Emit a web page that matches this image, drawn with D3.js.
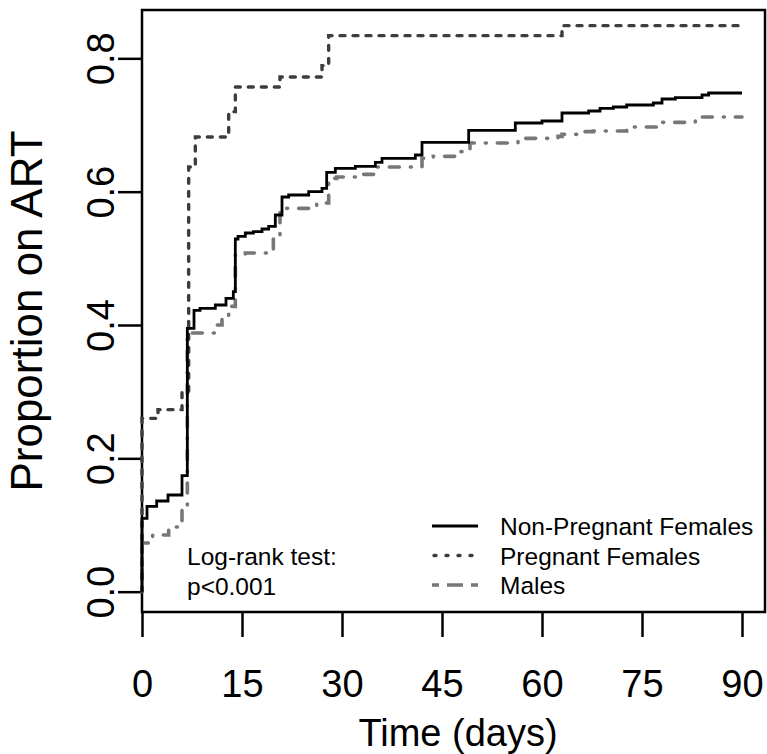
<!DOCTYPE html>
<html>
<head>
<meta charset="utf-8">
<script src="https://cdn.jsdelivr.net/npm/d3@7"></script>
<style>
  body { margin: 0; background: #fff; }
  svg { display: block; font-family: "Liberation Sans", Arial, sans-serif; }
</style>
</head>
<body>
<div id="chart"></div>
<script>
// Kaplan-Meier style cumulative proportions
const nonPregTimes  = [0, 0, 0.75, 2.2, 3.9, 6, 6.8, 7.8, 8.7, 11, 12.6, 13.7, 14, 14.4, 15.5, 16.7, 18, 19, 20, 21, 22, 25, 27, 27.7, 29, 32, 35, 36, 41, 42, 49, 56, 60, 63, 67, 68.7, 70.7, 72.7, 76.7, 78, 80, 84, 85, 90];
const nonPregValues = [0, 0.11, 0.128, 0.136, 0.145, 0.174, 0.395, 0.422, 0.425, 0.43, 0.44, 0.45, 0.529, 0.533, 0.538, 0.54, 0.544, 0.548, 0.565, 0.592, 0.595, 0.6, 0.605, 0.629, 0.635, 0.638, 0.644, 0.65, 0.655, 0.674, 0.692, 0.703, 0.706, 0.718, 0.721, 0.725, 0.727, 0.73, 0.733, 0.739, 0.741, 0.745, 0.748, 0.748];

const pregTimes  = [0, 0, 2.4, 6, 7, 8, 13, 14, 20.7, 27, 28, 63, 90];
const pregValues = [0, 0.26, 0.273, 0.30, 0.637, 0.682, 0.72, 0.757, 0.772, 0.789, 0.834, 0.849, 0.849];

const maleTimes  = [0, 0, 1.6, 4, 5.4, 6, 6.8, 11, 12, 13, 14, 15.5, 19.7, 20.7, 26.2, 28, 29.2, 32.7, 35.2, 42, 43.7, 47, 49.2, 56.4, 62.4, 63, 66, 67.7, 72.7, 77.4, 83, 84, 90];
const maleValues = [0, 0.073, 0.085, 0.097, 0.105, 0.127, 0.388, 0.40, 0.412, 0.428, 0.505, 0.508, 0.532, 0.575, 0.583, 0.62, 0.622, 0.626, 0.637, 0.65, 0.653, 0.66, 0.673, 0.68, 0.683, 0.686, 0.69, 0.691, 0.697, 0.704, 0.709, 0.712, 0.712];

const seriesNames = ["Non-Pregnant Females", "Pregnant Females", "Males"];
const xTicks = [0, 15, 30, 45, 60, 75, 90];
const yTicks = [0, 0.2, 0.4, 0.6, 0.8];

const outerWidth = 767;
const outerHeight = 754;

// plot box in pixels
const box = { left: 142, right: 765, top: 10, bottom: 612 };

const svg = d3.select("#chart")
  .append("svg")
  .attr("width", outerWidth)
  .attr("height", outerHeight);

const x = d3.scaleLinear().domain([0, 93.45]).range([box.left, box.right]);
const y = d3.scaleLinear().domain([-0.0305, 0.8725]).range([box.bottom, box.top]);

// --- axes ---
const xAxisG = svg.append("g")
  .attr("transform", `translate(0,${box.bottom})`)
  .call(d3.axisBottom(x).tickValues(xTicks).tickSize(25).tickFormat(d3.format("d")));

xAxisG.select(".domain").remove();
xAxisG.selectAll(".tick line").attr("stroke", "#000").attr("stroke-width", 2.5);
xAxisG.selectAll(".tick text")
  .attr("y", 85)
  .attr("dy", 0)
  .attr("fill", "#000")
  .attr("font-size", 38)
  .attr("font-family", "Liberation Sans, Arial, sans-serif");

const yAxisG = svg.append("g")
  .attr("transform", `translate(${box.left},0)`)
  .call(d3.axisLeft(y).tickValues(yTicks).tickSize(24).tickFormat(d3.format(".1f")));

yAxisG.select(".domain").remove();
yAxisG.selectAll(".tick line").attr("stroke", "#000").attr("stroke-width", 2.5);
yAxisG.selectAll(".tick text")
  .attr("transform", "rotate(-90)")
  .attr("x", 0)
  .attr("y", -28)
  .attr("dy", 0)
  .attr("text-anchor", "middle")
  .attr("fill", "#000")
  .attr("font-size", 38)
  .attr("font-family", "Liberation Sans, Arial, sans-serif");

// box
svg.append("rect")
  .attr("x", box.left)
  .attr("y", box.top)
  .attr("width", box.right - box.left)
  .attr("height", box.bottom - box.top)
  .attr("fill", "none")
  .attr("stroke", "#000")
  .attr("stroke-width", 2.5);

// axis labels
svg.append("text")
  .attr("x", 458)
  .attr("y", 746)
  .attr("text-anchor", "middle")
  .attr("font-size", 38)
  .text("Time (days)");

svg.append("text")
  .attr("transform", "rotate(-90)")
  .attr("x", -(box.top + box.bottom) / 2)
  .attr("y", 42)
  .attr("text-anchor", "middle")
  .attr("font-size", 44)
  .text("Proportion on ART");

// --- curves ---
const styles = [
  { color: "#000", width: 2.8, dash: null, cap: "butt" },
  { color: "#3d3d3d", width: 3.4, dash: "5,8", cap: "round" },
  { color: "#777", width: 3.6, dash: "1,11,10,11", cap: "round" }
];

const curves = [
  d3.zip(nonPregTimes, nonPregValues),
  d3.zip(pregTimes, pregValues),
  d3.zip(maleTimes, maleValues)
];

const line = d3.line()
  .x(d => x(d[0]))
  .y(d => y(d[1]))
  .curve(d3.curveStepAfter);

// draw males first, then pregnant, then solid on top
[2, 1, 0].forEach(i => {
  svg.append("path")
    .datum(curves[i])
    .attr("d", line)
    .attr("fill", "none")
    .attr("stroke", styles[i].color)
    .attr("stroke-width", styles[i].width)
    .attr("stroke-dasharray", styles[i].dash)
    .attr("stroke-linecap", styles[i].cap)
    .attr("stroke-linejoin", "miter");
});

// --- legend ---
const legend = svg.append("g").attr("transform", "translate(432,526)");

legend.selectAll("line")
  .data(seriesNames)
  .join("line")
  .attr("x1", 0)
  .attr("x2", 46)
  .attr("y1", (d, i) => i * 29.5)
  .attr("y2", (d, i) => i * 29.5)
  .attr("stroke", (d, i) => styles[i].color)
  .attr("stroke-width", (d, i) => styles[i].width)
  .attr("stroke-dasharray", (d, i) => i === 1 ? "2,10" : (i === 2 ? "7,8,16,8" : null))
  .attr("stroke-dashoffset", (d, i) => i === 1 ? -2 : 0)
  .attr("stroke-linecap", (d, i) => i === 1 ? "round" : "butt");

legend.selectAll("text")
  .data(seriesNames)
  .join("text")
  .attr("x", 68)
  .attr("y", (d, i) => i * 29.5 + 9)
  .attr("font-size", 24.5)
  .text(d => d);

// log-rank annotation
svg.append("text")
  .attr("x", 187)
  .attr("y", 565)
  .attr("font-size", 24.5)
  .text("Log-rank test:");

svg.append("text")
  .attr("x", 187)
  .attr("y", 595)
  .attr("font-size", 24.5)
  .text("p<0.001");
</script>
</body>
</html>
